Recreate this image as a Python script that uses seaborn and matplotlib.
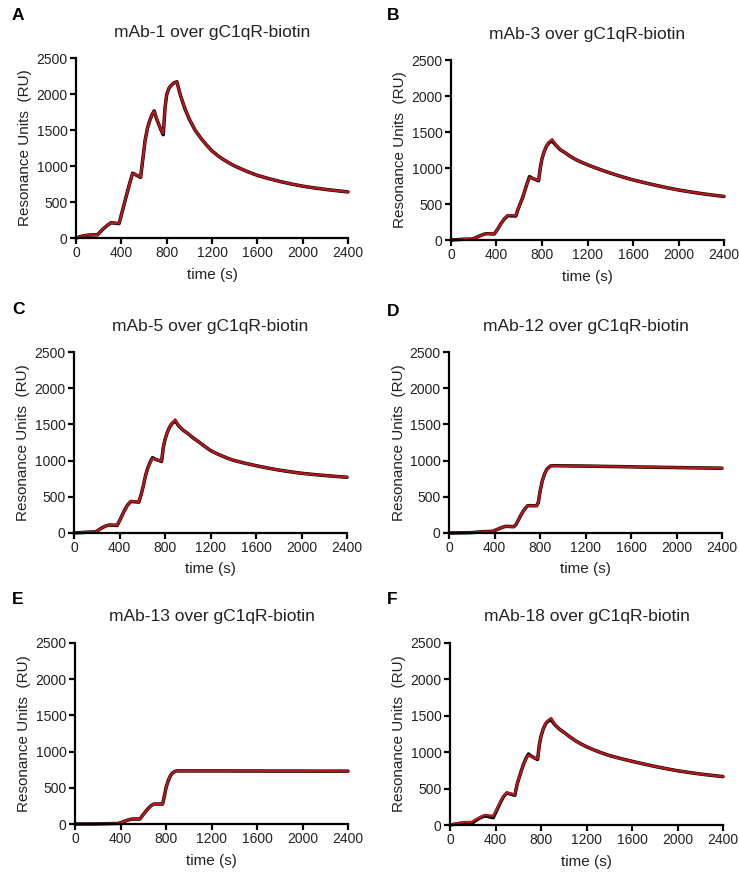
import matplotlib
matplotlib.use("Agg")
import matplotlib.pyplot as plt
import seaborn as sns
import pandas as pd

# ---------------- data ----------------
TIME = [0, 30, 60, 90, 120, 190, 220, 250, 280, 310, 380, 410, 440, 470, 500,
        570, 590, 610, 630, 650, 670, 690, 710, 730, 750, 770, 785, 800, 820,
        840, 860, 890, 920, 960, 1000, 1050, 1100, 1150, 1200, 1250, 1300,
        1350, 1400, 1500, 1600, 1700, 1800, 1900, 2000, 2100, 2200, 2300, 2400]

titles = ["mAb-1 over gC1qR-biotin", "mAb-3 over gC1qR-biotin",
          "mAb-5 over gC1qR-biotin", "mAb-12 over gC1qR-biotin",
          "mAb-13 over gC1qR-biotin", "mAb-18 over gC1qR-biotin"]
letters = ["A", "B", "C", "D", "E", "F"]

# measured sensorgram (black)
A_data = [0, 15, 28, 36, 42, 45, 95, 140, 180, 212, 200, 380, 560, 740, 900,
          842, 1100, 1360, 1520, 1630, 1710, 1765, 1660, 1580, 1500, 1435,
          1800, 1990, 2080, 2120, 2150, 2170, 1990, 1800, 1650, 1500, 1390,
          1295, 1210, 1145, 1090, 1043, 1000, 930, 870, 825, 785, 750, 720,
          696, 675, 657, 640]
B_data = [0, 3, 6, 9, 11, 13, 35, 55, 75, 88, 83, 150, 230, 295, 338,
          333, 430, 510, 590, 690, 790, 880, 862, 848, 836, 822,
          1000, 1130, 1230, 1305, 1350, 1375, 1320, 1255, 1215, 1160, 1115,
          1078, 1045, 1014, 985, 957, 930, 880, 835, 796, 760, 726, 695,
          669, 645, 624, 605]
C_data = [0, 3, 6, 9, 12, 15, 45, 75, 98, 110, 106, 200, 300, 385, 436,
          426, 530, 655, 800, 905, 980, 1040, 1022, 1010, 1000, 988,
          1180, 1290, 1390, 1460, 1510, 1550, 1480, 1420, 1375, 1310, 1255,
          1195, 1140, 1100, 1065, 1033, 1005, 965, 930, 898, 870, 846, 825,
          809, 795, 782, 770]
D_data = [0, 0, 1, 2, 3, 5, 8, 12, 16, 19, 22, 40, 60, 80, 92,
          87, 120, 180, 240, 295, 340, 375, 378, 377, 377, 377,
          420, 570, 720, 815, 880, 925, 930, 929, 928, 927, 926,
          925, 924, 923, 922, 920, 919, 917, 914, 911, 909, 906, 904,
          901, 899, 897, 895]
E_data = [0, 0, 0, 0, 0, 1, 2, 3, 4, 5, 7, 22, 40, 57, 68,
          69, 110, 150, 190, 225, 255, 274, 276, 276, 276, 276,
          380, 500, 600, 670, 710, 733, 733, 733, 733, 733, 733,
          733, 733, 733, 733, 733, 732, 732, 732, 731, 731, 731, 731,
          730, 730, 730, 730]
F_data = [0, 8, 15, 20, 22, 20, 55, 85, 110, 125, 100, 200, 300, 390, 440,
          408, 560, 660, 760, 850, 920, 975, 950, 932, 915, 900,
          1100, 1220, 1320, 1390, 1425, 1445, 1380, 1320, 1275, 1215, 1160,
          1115, 1075, 1041, 1010, 981, 955, 913, 875, 839, 805, 774, 745,
          722, 700, 682, 665]

# kinetic fit (red)
A_fit = [0, 15, 28, 36, 42, 45, 95, 140, 180, 212, 202, 380, 560, 740, 895,
         848, 1100, 1360, 1520, 1630, 1710, 1760, 1665, 1585, 1505, 1450,
         1800, 1990, 2080, 2120, 2150, 2165, 1995, 1805, 1655, 1500, 1390,
         1295, 1210, 1145, 1090, 1043, 1000, 930, 870, 825, 785, 750, 720,
         696, 675, 657, 640]
B_fit = [0, 3, 6, 9, 11, 13, 35, 55, 75, 88, 85, 150, 230, 300, 345,
         340, 430, 510, 590, 690, 790, 870, 860, 850, 840, 830,
         1000, 1130, 1230, 1310, 1360, 1400, 1325, 1258, 1215, 1160, 1115,
         1078, 1045, 1014, 985, 957, 930, 880, 835, 796, 760, 726, 695,
         669, 645, 624, 605]
C_fit = [0, 3, 6, 9, 12, 15, 45, 75, 98, 110, 108, 200, 300, 385, 440,
         430, 530, 655, 800, 900, 975, 1030, 1020, 1010, 1000, 995,
         1180, 1290, 1390, 1460, 1515, 1570, 1485, 1422, 1375, 1310, 1255,
         1195, 1140, 1100, 1065, 1033, 1005, 965, 930, 898, 870, 846, 825,
         809, 795, 782, 770]
D_fit = list(D_data)
E_fit = list(E_data)
F_fit = [0, 12, 25, 33, 40, 42, 70, 95, 120, 138, 125, 210, 310, 395, 446,
         414, 560, 660, 760, 850, 915, 960, 945, 930, 918, 910,
         1100, 1220, 1320, 1395, 1435, 1470, 1385, 1322, 1275, 1215, 1160,
         1115, 1075, 1041, 1010, 981, 955, 913, 875, 839, 805, 774, 745,
         722, 700, 682, 665]

data_series = [A_data, B_data, C_data, D_data, E_data, F_data]
fit_series = [A_fit, B_fit, C_fit, D_fit, E_fit, F_fit]

x_ticks = [0, 400, 800, 1200, 1600, 2000, 2400]
y_ticks = [0, 500, 1000, 1500, 2000, 2500]

# ---------------- layout ----------------
W, H = 739, 872
# left, right, top, bottom in pixels for each panel
boxes = [(76, 348, 58, 238), (451, 724, 60, 240),
         (74, 347, 352, 533), (449, 722, 352, 533),
         (75, 348, 643, 824), (450, 723, 643, 825)]
letter_pos = [(12, 16), (387, 16), (12, 309), (387, 311), (12, 599), (387, 599)]

sns.set_theme(style="ticks")
plt.rcParams['font.family'] = ['Liberation Sans', 'DejaVu Sans']
text_col = "#222222"

fig = plt.figure(figsize=(W / 100, H / 100), dpi=100)

for i in range(6):
    l, r, t, b = boxes[i]
    ax = fig.add_axes([l / W, 1 - b / H, (r - l) / W, (b - t) / H])
    df = pd.DataFrame({"time": TIME, "data": data_series[i], "fit": fit_series[i]})
    sns.lineplot(data=df, x="time", y="data", ax=ax, color="black",
                 linewidth=2.5, sort=False, estimator=None, clip_on=False)
    sns.lineplot(data=df, x="time", y="fit", ax=ax, color="#b3191c",
                 linewidth=1.7, sort=False, estimator=None, clip_on=False)
    ax.set_xlim(0, 2400)
    ax.set_ylim(0, 2500)
    ax.set_xticks(x_ticks)
    ax.set_yticks(y_ticks)
    ax.set_xticklabels([str(v) for v in x_ticks], fontsize=10, color=text_col)
    ax.set_yticklabels([str(v) for v in y_ticks], fontsize=10, color=text_col)
    for s in ["top", "right"]:
        ax.spines[s].set_visible(False)
    for s in ["left", "bottom"]:
        ax.spines[s].set_linewidth(1.6)
        ax.spines[s].set_color("black")
    ax.tick_params(axis="both", direction="out", length=4, width=1.6,
                   color="black", pad=2)
    hpx = b - t
    wpx = r - l
    ax.set_xlabel("time (s)", fontsize=11, color=text_col)
    ax.set_ylabel("Resonance Units  (RU)", fontsize=11, color=text_col)
    ax.xaxis.set_label_coords(0.5, -29.5 / hpx)
    ax.yaxis.set_label_coords(-43.5 / wpx, 0.5)
    ax.text(0.5, 1 + 26 / hpx, titles[i], transform=ax.transAxes,
            ha="center", va="center", fontsize=12.5, color=text_col)
    lx, ly = letter_pos[i]
    fig.text(lx / W, 1 - ly / H, letters[i], ha="left", va="center",
             fontsize=12.5, fontweight="bold", color="black")

fig.savefig("out.png", dpi=100)
